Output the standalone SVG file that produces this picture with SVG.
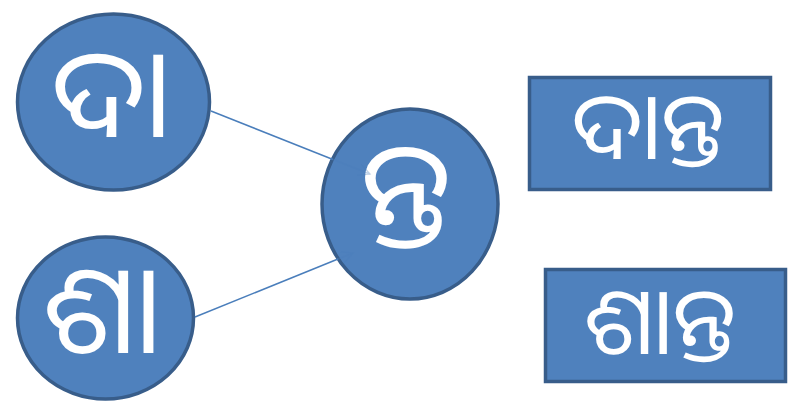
<svg xmlns="http://www.w3.org/2000/svg" width="788" height="411" viewBox="0 0 788 411">
<defs>
<style>
.n{fill:#4f81bd;stroke:#385d8a;stroke-width:3.5}
.t{fill:#fff;font-family:"Noto Sans Oriya","Noto Sans","DejaVu Sans",sans-serif;text-anchor:middle}
.c{stroke:#4a7ebb;stroke-width:1.5;fill:none}
.f{opacity:0.35}
</style>
<marker id="a" markerWidth="14" markerHeight="12" refX="12" refY="6" orient="auto" markerUnits="userSpaceOnUse">
<path d="M0,0 L12,6 L0,12" fill="none" stroke="#4a7ebb" stroke-width="1.2"/>
</marker>
</defs>
<g id="n1"><ellipse class="n" cx="113.5" cy="102" rx="96" ry="88"/><text class="t" x="111" y="137" font-size="125">ଦା</text></g>
<g id="n2"><ellipse class="n" cx="105.5" cy="318" rx="88" ry="81"/><text class="t" x="102" y="353" font-size="125">ଶା</text></g>
<g id="n3"><ellipse class="n" cx="410" cy="204" rx="88" ry="95"/><text class="t" x="406" y="237" font-size="135">ନ୍ତ</text></g>
<g id="r1"><rect class="n" x="529.5" y="77.5" width="241" height="112"/><text class="t" x="648" y="159" font-size="94">ଦାନ୍ତ</text></g>
<g id="r2"><rect class="n" x="545.5" y="269.5" width="240" height="112"/><text class="t" x="660" y="354" font-size="94">ଶାନ୍ତ</text></g>
<g id="connectors">
<line class="c" x1="211" y1="111" x2="333" y2="159.5"/>
<line class="c f" x1="333" y1="159.5" x2="370" y2="174" marker-end="url(#a)"/>
<line class="c" x1="195" y1="317" x2="338" y2="259"/>
<line class="c f" x1="338" y1="259" x2="353" y2="253" marker-end="url(#a)"/>
</g>
</svg>
